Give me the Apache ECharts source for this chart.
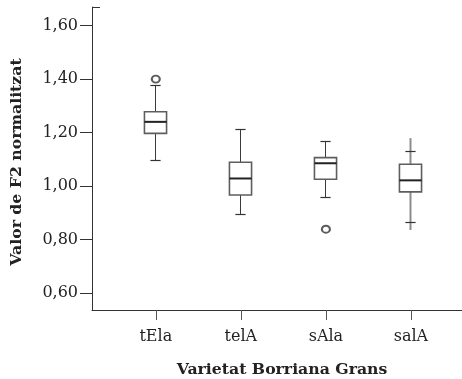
<!DOCTYPE html>
<html>
<head>
<meta charset="utf-8">
<script src="https://cdn.jsdelivr.net/npm/echarts@6/dist/echarts.min.js"></script>
<style>
  html, body { margin: 0; padding: 0; background: #ffffff; }
  #chart { width: 462px; height: 379px; }
</style>
</head>
<body>
<div id="chart"></div>
<script>
// Normalised F2 per variant (Borriana, Grans)
const categories = ['tEla', 'telA', 'sAla', 'salA'];
const lowerWhisker = [1.097, 0.894, 0.956, 0.865];
const q1 = [1.197, 0.966, 1.025, 0.978];
const median = [1.240, 1.028, 1.085, 1.021];
const q3 = [1.278, 1.089, 1.106, 1.081];
const upperWhisker = [1.376, 1.210, 1.165, 1.128];
// full extent of each whisker stem (salA runs past its caps)
const stemLow = [1.097, 0.894, 0.956, 0.835];
const stemHigh = [1.376, 1.210, 1.165, 1.179];
// outliers: [category index, value]
const outliers = [[0, 1.40], [2, 0.838]];
const yTicks = [0.6, 0.8, 1.0, 1.2, 1.4, 1.6];
const catIndex = categories.map((c, i) => i);

const FONT = '"DejaVu Serif", serif';

const boxData = categories.map((c, i) => [
  i, stemLow[i], lowerWhisker[i], q1[i], median[i], q3[i], upperWhisker[i], stemHigh[i]
]);

function crisp(v) { return Math.round(v - 0.5) + 0.5; }

function renderBox(params, api) {
  const i = api.value(0);
  const xc = crisp(api.coord([i, 1])[0]);
  const y = v => api.coord([i, v])[1];
  const halfBox = api.size([0.26, 0])[0] / 2;
  const halfCap = api.size([0.12, 0])[0] / 2;
  const sLo = api.value(1), wLo = api.value(2), b1 = api.value(3);
  const md = api.value(4), b3 = api.value(5), wHi = api.value(6), sHi = api.value(7);
  const extended = sLo < wLo || sHi > wHi;
  const stemStyle = extended
    ? { stroke: '#8c8c8c', lineWidth: 2 }
    : { stroke: '#3a3a3a', lineWidth: 1 };
  const capStyle = { stroke: '#333333', lineWidth: 1.2 };
  const children = [
    { type: 'line', shape: { x1: xc, y1: y(sHi), x2: xc, y2: y(b3) }, style: stemStyle },
    { type: 'line', shape: { x1: xc, y1: y(b1), x2: xc, y2: y(sLo) }, style: stemStyle },
    { type: 'line', shape: { x1: xc - halfCap, y1: crisp(y(wHi)), x2: xc + halfCap, y2: crisp(y(wHi)) }, style: capStyle },
    { type: 'line', shape: { x1: xc - halfCap, y1: crisp(y(wLo)), x2: xc + halfCap, y2: crisp(y(wLo)) }, style: capStyle },
    {
      type: 'rect',
      shape: { x: xc - halfBox, y: y(b3), width: halfBox * 2, height: y(b1) - y(b3) },
      style: { fill: '#ffffff', stroke: '#5e5e5e', lineWidth: 1.6 }
    },
    { type: 'line', shape: { x1: xc - halfBox, y1: y(md), x2: xc + halfBox, y2: y(md) }, style: { stroke: '#222222', lineWidth: 2 } }
  ];
  return { type: 'group', children: children };
}

const chart = echarts.init(document.getElementById('chart'), null, { renderer: 'canvas' });

chart.setOption({
  backgroundColor: '#ffffff',
  animation: false,
  grid: { left: 92, right: 0, top: 7, bottom: 69 },
  xAxis: {
    type: 'value',
    min: -0.75,
    max: 3.6,
    splitLine: { show: false },
    axisLine: { show: true, onZero: false, lineStyle: { color: '#333333', width: 1 } },
    axisTick: { show: true, customValues: catIndex, length: 10, lineStyle: { color: '#555555' } },
    axisLabel: {
      customValues: catIndex,
      formatter: v => categories[Math.round(v)],
      fontFamily: FONT, fontSize: 16, color: '#222222', margin: 19
    }
  },
  yAxis: {
    type: 'value',
    min: 0.5356,
    max: 1.670,
    splitLine: { show: false },
    axisLine: { show: true, onZero: false, lineStyle: { color: '#333333', width: 1 } },
    axisTick: { show: true, customValues: yTicks, length: 12, lineStyle: { color: '#333333' } },
    axisLabel: {
      customValues: yTicks,
      formatter: v => v.toFixed(2).replace('.', ','),
      fontFamily: FONT, fontSize: 16, color: '#222222', margin: 14
    }
  },
  graphic: [
    { type: 'line', shape: { x1: 92, y1: 7.5, x2: 100, y2: 7.5 }, style: { stroke: '#333333', lineWidth: 1 } },
    {
      type: 'text', x: 282, y: 370,
      style: { text: 'Varietat Borriana Grans', font: 'bold 15.7px "DejaVu Serif", serif', fill: '#222222', align: 'center', verticalAlign: 'middle' }
    },
    {
      type: 'text', x: 17, y: 162, rotation: Math.PI / 2,
      style: { text: 'Valor de F2 normalitzat', font: 'bold 15.7px "DejaVu Serif", serif', fill: '#222222', align: 'center', verticalAlign: 'middle' }
    }
  ],
  series: [
    {
      type: 'custom',
      renderItem: renderBox,
      encode: { x: 0, y: [1, 2, 3, 4, 5, 6, 7] },
      data: boxData,
      z: 2
    },
    {
      type: 'scatter',
      data: outliers,
      symbol: 'emptyCircle',
      symbolSize: [8, 7],
      itemStyle: { color: '#333333', borderWidth: 1.6 },
      z: 3
    }
  ]
});
</script>
</body>
</html>
